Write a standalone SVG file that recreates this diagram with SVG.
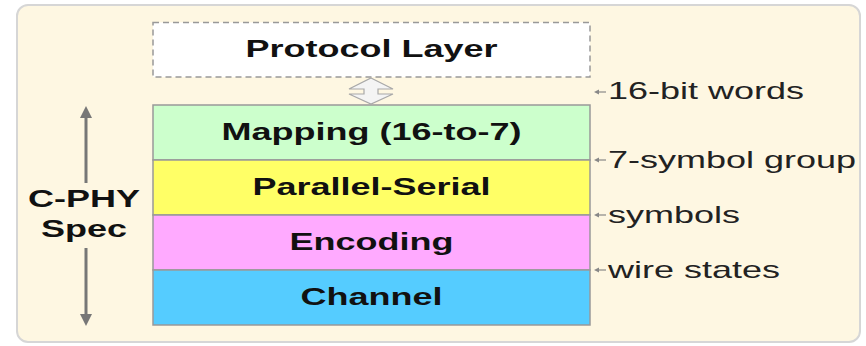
<svg xmlns="http://www.w3.org/2000/svg" width="866" height="346" viewBox="0 0 866 346">
  <defs>
    <style>
      .bold { font-family: "Liberation Sans", Arial, sans-serif; font-weight: bold; font-size: 24px; fill: #111; }
      .lbl { font-family: "Liberation Sans", Arial, sans-serif; font-size: 24px; fill: #222; }
      .layer { stroke: #999; stroke-width: 1.5; }
      .tick { stroke: #888; stroke-width: 1.2; fill: none; }
      .tickhead { fill: #888; }
      .span { stroke: #777; stroke-width: 3; fill: none; }
      .spanhead { fill: #777; }
    </style>
  </defs>

  <!-- panel -->
  <rect x="17" y="5" width="843" height="337" rx="11" fill="#FEF7E2" stroke="#D6D6D6" stroke-width="2"/>

  <g id="protocol-layer">
    <rect x="153" y="22.5" width="437" height="54.5" fill="#FFFFFF" stroke="#999" stroke-width="1.5" stroke-dasharray="6,4"/>
    <text class="bold" x="371.5" y="57" text-anchor="middle" textLength="252" lengthAdjust="spacingAndGlyphs">Protocol Layer</text>
  </g>

  <g id="mapping">
    <rect class="layer" x="153" y="105" width="437" height="55" fill="#CCFFCC"/>
    <text class="bold" x="371.5" y="140" text-anchor="middle" textLength="300" lengthAdjust="spacingAndGlyphs">Mapping (16-to-7)</text>
  </g>

  <g id="parallel-serial">
    <rect class="layer" x="153" y="160" width="437" height="55" fill="#FFFF66"/>
    <text class="bold" x="371.5" y="195" text-anchor="middle" textLength="238" lengthAdjust="spacingAndGlyphs">Parallel-Serial</text>
  </g>

  <g id="encoding">
    <rect class="layer" x="153" y="215" width="437" height="55" fill="#FFAAFF"/>
    <text class="bold" x="371.5" y="250" text-anchor="middle" textLength="164" lengthAdjust="spacingAndGlyphs">Encoding</text>
  </g>

  <g id="channel">
    <rect class="layer" x="153" y="270" width="437" height="55" fill="#55CCFF"/>
    <text class="bold" x="371.5" y="305" text-anchor="middle" textLength="142" lengthAdjust="spacingAndGlyphs">Channel</text>
  </g>

  <g id="spec-label">
    <text class="bold" x="84" y="207" text-anchor="middle" textLength="112" lengthAdjust="spacingAndGlyphs">C-PHY</text>
    <text class="bold" x="84" y="237" text-anchor="middle" textLength="86" lengthAdjust="spacingAndGlyphs">Spec</text>
  </g>

  <g id="connectors">
    <!-- protocol <-> mapping -->
    <path d="M371,78 L393,89 L378,89 L378,94 L393,94 L371,104 L349,94 L364,94 L364,89 L349,89 Z" fill="#F4F4F4" stroke="#A8A8A8" stroke-width="1.2"/>
    <!-- spec span, up and down -->
    <line class="span" x1="86" y1="116" x2="86" y2="183"/>
    <path class="spanhead" d="M86,106 L92,118 L80,118 Z"/>
    <line class="span" x1="86" y1="248" x2="86" y2="315"/>
    <path class="spanhead" d="M86,326 L92,314 L80,314 Z"/>
    <!-- interface ticks -->
    <line class="tick" x1="598" y1="92" x2="606" y2="92"/>
    <path class="tickhead" d="M594,92 L599,89.5 L599,94.5 Z"/>
    <line class="tick" x1="598" y1="160" x2="606" y2="160"/>
    <path class="tickhead" d="M594,160 L599,157.5 L599,162.5 Z"/>
    <line class="tick" x1="598" y1="215" x2="606" y2="215"/>
    <path class="tickhead" d="M594,215 L599,212.5 L599,217.5 Z"/>
    <line class="tick" x1="598" y1="270" x2="606" y2="270"/>
    <path class="tickhead" d="M594,270 L599,267.5 L599,272.5 Z"/>
  </g>

  <g id="interface-labels">
    <text class="lbl" x="608" y="99" textLength="196" lengthAdjust="spacingAndGlyphs">16-bit words</text>
    <text class="lbl" x="608" y="168" textLength="248" lengthAdjust="spacingAndGlyphs">7-symbol group</text>
    <text class="lbl" x="608" y="223" textLength="132" lengthAdjust="spacingAndGlyphs">symbols</text>
    <text class="lbl" x="608" y="278" textLength="172" lengthAdjust="spacingAndGlyphs">wire states</text>
  </g>
</svg>
